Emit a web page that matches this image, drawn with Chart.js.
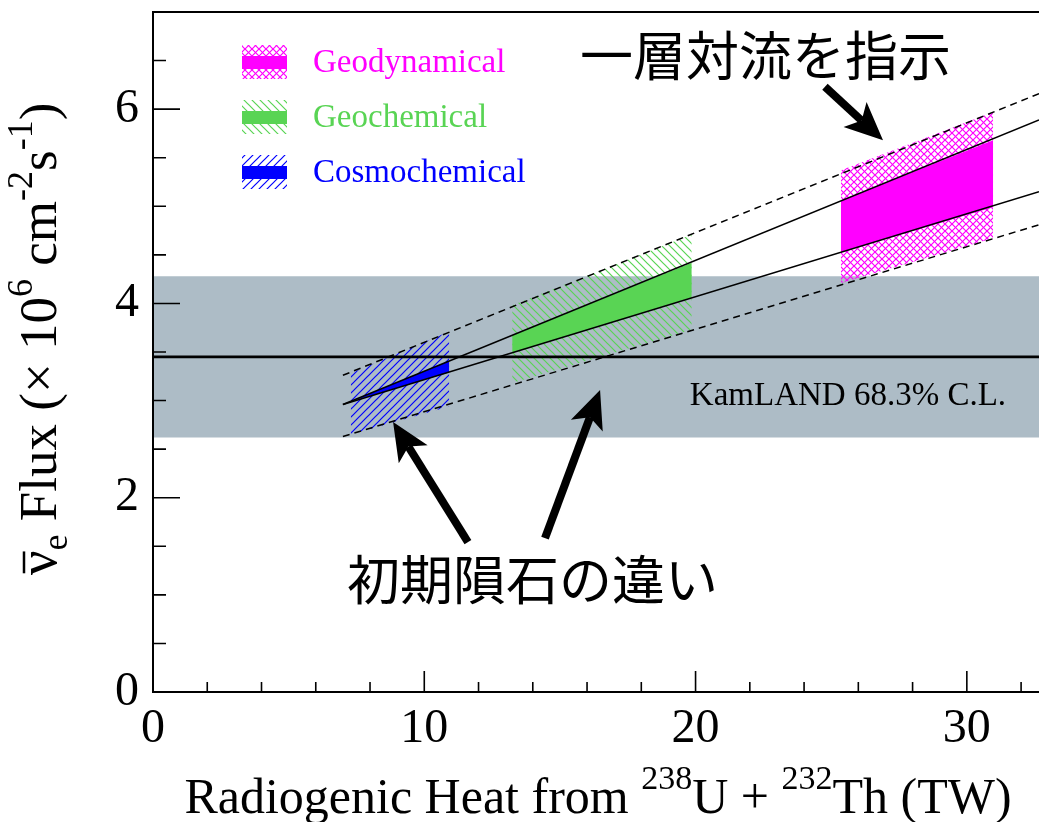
<!DOCTYPE html>
<html><head><meta charset="utf-8">
<script src="https://cdn.jsdelivr.net/npm/chart.js@4.4.0/dist/chart.umd.min.js"></script>
<style>html,body{margin:0;padding:0;background:#fff;overflow:hidden}#wrap{width:1039px;height:822px;position:relative}canvas{display:block}</style>
</head><body><div id="wrap"><canvas id="c" width="1039" height="822"></canvas></div>
<script>
// ---------- data ----------
const xRange = [0, 32.66];
const yRange = [0, 7];
const xTicks = [0, 10, 20, 30];
const xMinorTicks = [2, 4, 6, 8, 12, 14, 16, 18, 22, 24, 26, 28, 32];
const yTicks = [0, 2, 4, 6];
const yMinorTicks = [0.5, 1, 1.5, 2.5, 3, 3.5, 4.5, 5, 5.5, 6.5];

const lineX = [7.0, 32.66];
const upperSolid = [2.96, 5.89];
const lowerSolid = [2.96, 5.15];
const upperDashed = [3.26, 6.16];
const lowerDashed = [2.63, 4.81];

const kamlandX = [0, 32.66];
const kamlandBest = 3.45;
const kamlandLow = 2.62;
const kamlandHigh = 4.28;
const kamlandLabel = 'KamLAND 68.3% C.L.';
const kamlandLabelPos = [19.79, 2.954];

const models = ['Geodynamical', 'Geochemical', 'Cosmochemical'];
const modelColors = ['#ff00ff', '#59d454', '#0000ff'];
const modelX = [[25.36, 30.97], [13.24, 19.86], [7.29, 10.92]];
const fillTop = [[5.06, 5.68], [3.67, 4.42], [2.99, 3.41]];
const fillBottom = [[4.53, 4.99], [3.49, 4.06], [2.99, 3.29]];
const hatchTop = [[5.37, 5.97], [3.98, 4.71], [3.28, 3.71]];
const hatchBottom = [[4.21, 4.67], [3.18, 3.73], [2.65, 2.94]];
const hatchKinds = ['x', '\\', '/'];

const noteTexts = ['一層対流を指示', '初期隕石の違い'];
const notePos = [[15.74, 6.55], [7.15, 1.153]];
const arrowTails = [[24.77, 6.23], [11.61, 1.544], [14.45, 1.585]];
const arrowTips = [[26.91, 5.68], [8.85, 2.78], [16.48, 3.108]];

// ---------- helpers ----------
const canvas = document.getElementById('c');
const ctx0 = canvas.getContext('2d');
const SERIF = '"Liberation Serif", "Times New Roman", serif';
const CJK = '"Noto Sans CJK JP", "Noto Sans CJK SC", sans-serif';

function makePattern(color, kind, size, lw) {
  const c = document.createElement('canvas');
  c.width = size; c.height = size;
  const g = c.getContext('2d');
  g.strokeStyle = color; g.lineWidth = lw;
  const slash = () => { g.beginPath(); for (const o of [-size, 0, size]) { g.moveTo(o - 1, size + 1); g.lineTo(o + size + 1, -1); } g.stroke(); };
  const back = () => { g.beginPath(); for (const o of [-size, 0, size]) { g.moveTo(o - 1, -1); g.lineTo(o + size + 1, size + 1); } g.stroke(); };
  if (kind === '/') slash();
  else if (kind === '\\') back();
  else { slash(); back(); }
  return ctx0.createPattern(c, 'repeat');
}
const patterns = models.map((m, i) => makePattern(modelColors[i], hatchKinds[i], i === 0 ? 7 : 8, i === 0 ? 1.2 : 1.2));

const pts = (xs, ys) => xs.map((x, i) => ({ x, y: ys[i] }));
const flat = (xs, v) => xs.map(x => ({ x, y: v }));
const NONE = 'rgba(0,0,0,0)';

const datasets = [];
datasets.push({ label: 'KamLAND best', data: flat(kamlandX, kamlandBest), borderColor: '#000', borderWidth: 2.6, fill: false, order: 0 });
datasets.push({ label: 'upper', data: pts(lineX, upperSolid), borderColor: '#000', borderWidth: 1.5, fill: false, order: 1 });
datasets.push({ label: 'lower', data: pts(lineX, lowerSolid), borderColor: '#000', borderWidth: 1.5, fill: false, order: 1 });
datasets.push({ label: 'upper dashed', data: pts(lineX, upperDashed), borderColor: '#000', borderWidth: 1.5, borderDash: [7, 5], fill: false, order: 1 });
datasets.push({ label: 'lower dashed', data: pts(lineX, lowerDashed), borderColor: '#000', borderWidth: 1.5, borderDash: [7, 5], fill: false, order: 1 });
models.forEach((m, i) => {
  datasets.push({ label: m + ' fill low', data: pts(modelX[i], fillBottom[i]), borderColor: NONE, borderWidth: 1, fill: false, order: 10 });
  datasets.push({ label: m + ' fill', data: pts(modelX[i], fillTop[i]), borderColor: NONE, borderWidth: 1, backgroundColor: modelColors[i], fill: '-1', order: 10 });
  datasets.push({ label: m + ' hatch low', data: pts(modelX[i], hatchBottom[i]), borderColor: NONE, borderWidth: 1, fill: false, order: 20 });
  datasets.push({ label: m + ' hatch', data: pts(modelX[i], hatchTop[i]), borderColor: NONE, borderWidth: 1, backgroundColor: patterns[i], fill: '-1', order: 20 });
});
datasets.push({ label: 'band low', data: flat(kamlandX, kamlandLow), borderColor: NONE, borderWidth: 1, fill: false, order: 30 });
datasets.push({ label: 'band', data: flat(kamlandX, kamlandHigh), borderColor: NONE, borderWidth: 1, backgroundColor: 'rgb(173,188,198)', fill: '-1', order: 30 });

function drawRich(ctx, segs, x, y) {
  let cx = x;
  for (const s of segs) {
    ctx.font = `${s.size}px ${SERIF}`;
    ctx.fillText(s.t, cx, y + (s.dy || 0));
    cx += ctx.measureText(s.t).width;
  }
}
function richWidth(ctx, segs) {
  let w = 0;
  for (const s of segs) { ctx.font = `${s.size}px ${SERIF}`; w += ctx.measureText(s.t).width; }
  return w;
}
function arrow(ctx, x1, y1, x2, y2) {
  const a = Math.atan2(y2 - y1, x2 - x1);
  const L = 38, W = 17, notch = 9;
  const ux = Math.cos(a), uy = Math.sin(a), nx = -uy, ny = ux;
  const bx = x2 - ux * L, by = y2 - uy * L;
  ctx.save();
  ctx.strokeStyle = '#000'; ctx.fillStyle = '#000'; ctx.lineWidth = 8; ctx.lineCap = 'butt';
  ctx.beginPath(); ctx.moveTo(x1, y1); ctx.lineTo(bx + ux * notch, by + uy * notch); ctx.stroke();
  ctx.beginPath();
  ctx.moveTo(x2, y2);
  ctx.lineTo(bx + nx * W, by + ny * W);
  ctx.lineTo(bx + ux * notch, by + uy * notch);
  ctx.lineTo(bx - nx * W, by - ny * W);
  ctx.closePath(); ctx.fill();
  ctx.restore();
}

const decorPlugin = {
  id: 'decor',
  afterDraw(chart) {
    const ctx = chart.ctx, xs = chart.scales.x, ys = chart.scales.y, a = chart.chartArea;
    ctx.save();
    // frame
    ctx.strokeStyle = '#000'; ctx.lineWidth = 2;
    ctx.beginPath();
    ctx.moveTo(a.right, a.top); ctx.lineTo(a.left, a.top); ctx.lineTo(a.left, a.bottom); ctx.lineTo(a.right, a.bottom);
    ctx.stroke();
    // ticks
    ctx.lineWidth = 1.6;
    ctx.beginPath();
    for (const v of xTicks) { const p = xs.getPixelForValue(v); ctx.moveTo(p, a.bottom); ctx.lineTo(p, a.bottom - 21); }
    for (const v of xMinorTicks) { const p = xs.getPixelForValue(v); ctx.moveTo(p, a.bottom); ctx.lineTo(p, a.bottom - 10); }
    for (const v of yTicks) { const p = ys.getPixelForValue(v); ctx.moveTo(a.left, p); ctx.lineTo(a.left + 27, p); }
    for (const v of yMinorTicks) { const p = ys.getPixelForValue(v); ctx.moveTo(a.left, p); ctx.lineTo(a.left + 13, p); }
    ctx.stroke();

    // legend
    const lx = 242, lw = 45, ly0 = 45, lh = 34, step = 55;
    models.forEach((m, i) => {
      const y = ly0 + i * step;
      ctx.fillStyle = patterns[i]; ctx.fillRect(lx, y, lw, lh);
      ctx.fillStyle = modelColors[i]; ctx.fillRect(lx, y + 11, lw, 13);
      ctx.font = `33px ${SERIF}`; ctx.textAlign = 'left'; ctx.textBaseline = 'alphabetic';
      ctx.fillText(m, 313, y + 27);
    });

    // KamLAND label
    ctx.fillStyle = '#000'; ctx.font = `33px ${SERIF}`; ctx.textAlign = 'left'; ctx.textBaseline = 'alphabetic';
    ctx.fillText(kamlandLabel, xs.getPixelForValue(kamlandLabelPos[0]), ys.getPixelForValue(kamlandLabelPos[1]));

    // Japanese notes
    ctx.font = `53px ${CJK}`; ctx.textBaseline = 'middle';
    noteTexts.forEach((t, i) => ctx.fillText(t, xs.getPixelForValue(notePos[i][0]), ys.getPixelForValue(notePos[i][1])));

    // arrows
    arrowTails.forEach((t, i) => arrow(ctx, xs.getPixelForValue(t[0]), ys.getPixelForValue(t[1]), xs.getPixelForValue(arrowTips[i][0]), ys.getPixelForValue(arrowTips[i][1])));

    // x title
    ctx.textBaseline = 'alphabetic'; ctx.fillStyle = '#000';
    const xt = [{ t: 'Radiogenic Heat from ', size: 50 }, { t: '238', size: 34, dy: -24 }, { t: 'U + ', size: 50 }, { t: '232', size: 34, dy: -24 }, { t: 'Th (TW)', size: 50 }];
    const xw = richWidth(ctx, xt);
    drawRich(ctx, xt, 598 - xw / 2, 813);

    // y title
    const yt = [{ t: 'ν', size: 55 }, { t: 'e', size: 36, dy: 11 }, { t: ' Flux (× 10', size: 53 }, { t: '6', size: 36, dy: -24 }, { t: ' cm', size: 53 }, { t: '-2', size: 36, dy: -24 }, { t: 's', size: 53 }, { t: '-1', size: 36, dy: -24 }, { t: ')', size: 53 }];
    const yw = richWidth(ctx, yt);
    ctx.save();
    ctx.translate(56, 339); ctx.rotate(-Math.PI / 2);
    drawRich(ctx, yt, -yw / 2, 0);
    ctx.font = `55px ${SERIF}`;
    const nuW = ctx.measureText('ν').width;
    ctx.lineWidth = 2.5; ctx.strokeStyle = '#000';
    ctx.beginPath(); ctx.moveTo(-yw / 2 + 2, -32); ctx.lineTo(-yw / 2 + nuW - 1, -32); ctx.stroke();
    ctx.restore();

    ctx.restore();
  }
};

new Chart(canvas, {
  type: 'line',
  data: { datasets },
  options: {
    responsive: false,
    animation: false,
    devicePixelRatio: 1,
    layout: { padding: { top: 12, right: 0, left: 0, bottom: 0 } },
    elements: { point: { radius: 0, hoverRadius: 0 }, line: { tension: 0 } },
    plugins: { legend: { display: false }, tooltip: { enabled: false } },
    scales: {
      x: {
        type: 'linear', min: xRange[0], max: xRange[1],
        grid: { display: false }, border: { display: false },
        afterBuildTicks: s => { s.ticks = xTicks.map(v => ({ value: v })); },
        afterFit: s => { s.height = 130; },
        ticks: { font: { family: SERIF, size: 48 }, color: '#000', padding: 1, maxRotation: 0, autoSkip: false }
      },
      y: {
        type: 'linear', min: yRange[0], max: yRange[1],
        grid: { display: false }, border: { display: false },
        afterBuildTicks: s => { s.ticks = yTicks.map(v => ({ value: v })); },
        afterFit: s => { s.width = 153; s.paddingTop = 0; s.paddingBottom = 0; },
        ticks: { font: { family: SERIF, size: 48, lineHeight: 0.2 }, color: '#000', padding: 6, autoSkip: false }
      }
    }
  },
  plugins: [decorPlugin]
});
</script></body></html>
